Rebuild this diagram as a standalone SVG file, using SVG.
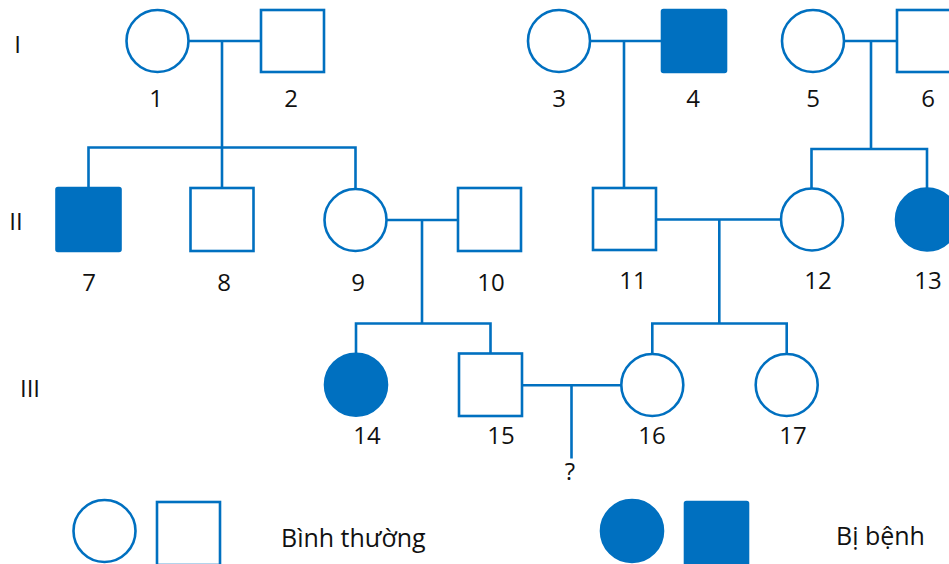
<svg xmlns="http://www.w3.org/2000/svg" width="949" height="564" viewBox="0 0 949 564">
  <style>
    .n { fill: #ffffff; stroke: #0070c0; stroke-width: 2.6; }
    .a { fill: #0070c0; stroke: #0070c0; stroke-width: 2.6; }
    .c { fill: none; stroke: #0070c0; stroke-width: 2.6; }
    text { font-family: "Open Sans", "Noto Sans", "DejaVu Sans", sans-serif; font-size: 24px; fill: #111111; }
    .id { text-anchor: middle; }
    .key { font-size: 25px; }
  </style>
  <rect width="949" height="564" fill="#ffffff"/>

  <!-- generation labels -->
  <g id="generations">
    <text x="17.5" y="53" class="id">I</text>
    <text x="16" y="230" class="id">II</text>
    <text x="30" y="397" class="id">III</text>
  </g>

  <!-- connectors: couple lines, descent lines, sibship lines -->
  <g id="connectors" class="c">
    <path d="M188 41 H261 M222 41 V147.5 M88.5 188 V147.5 H355.5 V188 M222 147.5 V188"/>
    <path d="M590 41 H662 M624 41 V188"/>
    <path d="M844 41 H897 M871 41 V149 M811.5 188 V149 H927 V188"/>
    <path d="M386.5 220 H458 M422 220 V323.5 M356 353.5 V323.5 H490.5 V353.5"/>
    <path d="M656 219.5 H781 M719.3 219.5 V323.5 M652.3 354 V323.5 H786.7 V354"/>
    <path d="M522 385.3 H621.3 M571.5 385.3 V458.5"/>
  </g>

  <!-- generation I -->
  <g id="n1"><circle class="n" cx="157.5" cy="41" r="31"/><text x="156" y="107" class="id">1</text></g>
  <g id="n2"><rect class="n" x="261" y="10" width="63" height="62"/><text x="291" y="107" class="id">2</text></g>
  <g id="n3"><circle class="n" cx="559" cy="41" r="31"/><text x="559" y="107" class="id">3</text></g>
  <g id="n4"><rect class="a" x="662" y="10" width="64" height="62" rx="1.5"/><text x="693" y="107" class="id">4</text></g>
  <g id="n5"><circle class="n" cx="813" cy="41" r="31"/><text x="813" y="107" class="id">5</text></g>
  <g id="n6"><rect class="n" x="897" y="10" width="63" height="62"/><text x="928" y="107" class="id">6</text></g>

  <!-- generation II -->
  <g id="n7"><rect class="a" x="56.5" y="188" width="64" height="63" rx="1.5"/><text x="89" y="291" class="id">7</text></g>
  <g id="n8"><rect class="n" x="190.5" y="188" width="63" height="63"/><text x="224" y="291" class="id">8</text></g>
  <g id="n9"><circle class="n" cx="355.5" cy="220" r="31"/><text x="358" y="291" class="id">9</text></g>
  <g id="n10"><rect class="n" x="458" y="188" width="63" height="63"/><text x="491" y="291" class="id">10</text></g>
  <g id="n11"><rect class="n" x="593" y="188" width="63" height="62"/><text x="633" y="289" class="id">11</text></g>
  <g id="n12"><circle class="n" cx="812" cy="219.5" r="31"/><text x="818" y="289" class="id">12</text></g>
  <g id="n13"><circle class="a" cx="927" cy="219.5" r="31"/><text x="928" y="289" class="id">13</text></g>

  <!-- generation III -->
  <g id="n14"><circle class="a" cx="356" cy="384.7" r="31"/><text x="367" y="444" class="id">14</text></g>
  <g id="n15"><rect class="n" x="459" y="353.5" width="63" height="62.5"/><text x="501" y="444" class="id">15</text></g>
  <g id="n16"><circle class="n" cx="652.3" cy="385" r="31"/><text x="652" y="444" class="id">16</text></g>
  <g id="n17"><circle class="n" cx="786.7" cy="385" r="31"/><text x="793" y="444" class="id">17</text></g>
  <g id="child"><text x="570" y="480" class="id">?</text></g>

  <!-- legend -->
  <g id="legend-normal">
    <circle class="n" cx="104.5" cy="531" r="31"/>
    <rect class="n" x="157" y="502" width="63" height="63"/>
    <text x="281" y="546.5" class="key">Bình thường</text>
  </g>
  <g id="legend-affected">
    <circle class="a" cx="632" cy="531" r="31"/>
    <rect class="a" x="685" y="502" width="63" height="63" rx="1.5"/>
    <text x="836" y="545" class="key">Bị bệnh</text>
  </g>
</svg>
